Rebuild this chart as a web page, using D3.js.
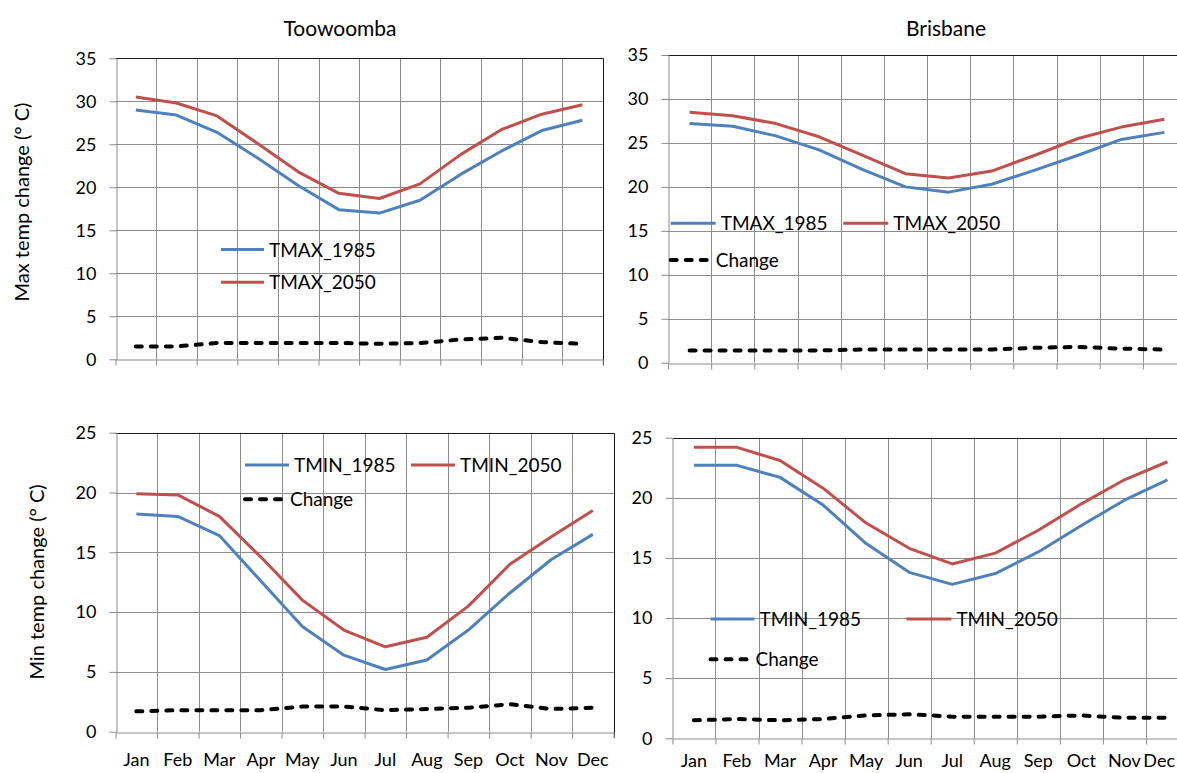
<!DOCTYPE html>
<html>
<head>
<meta charset="utf-8">
<script src="https://cdn.jsdelivr.net/npm/d3@7"></script>
<style>
  html, body { margin: 0; padding: 0; background: #fff; }
  svg { display: block; font-family: Lato, "Open Sans", sans-serif; }
</style>
</head>
<body>
<div id="chart"></div>
<script>
// Monthly temperatures
const months = ["Jan", "Feb", "Mar", "Apr", "May", "Jun", "Jul", "Aug", "Sep", "Oct", "Nov", "Dec"];

const toowoombaTmax1985 = [29.0, 28.4, 26.4, 23.4, 20.2, 17.4, 17.0, 18.5, 21.5, 24.2, 26.6, 27.8];
const toowoombaTmax2050 = [30.5, 29.8, 28.3, 25.1, 21.8, 19.3, 18.7, 20.4, 23.8, 26.7, 28.5, 29.6];
const toowoombaTmaxChange = [1.5, 1.5, 1.9, 1.9, 1.9, 1.9, 1.8, 1.9, 2.3, 2.5, 2.0, 1.8];

const brisbaneTmax1985 = [27.2, 26.9, 25.8, 24.2, 22.0, 20.0, 19.4, 20.3, 21.9, 23.6, 25.4, 26.2];
const brisbaneTmax2050 = [28.5, 28.1, 27.2, 25.7, 23.6, 21.5, 21.0, 21.8, 23.6, 25.5, 26.8, 27.7];
const brisbaneTmaxChange = [1.4, 1.4, 1.4, 1.4, 1.5, 1.5, 1.5, 1.5, 1.7, 1.8, 1.6, 1.5];

const toowoombaTmin1985 = [18.2, 18.0, 16.4, 12.6, 8.8, 6.4, 5.2, 6.0, 8.5, 11.6, 14.4, 16.5];
const toowoombaTmin2050 = [19.9, 19.8, 18.0, 14.6, 11.0, 8.5, 7.1, 7.9, 10.5, 14.0, 16.3, 18.5];
const toowoombaTminChange = [1.7, 1.8, 1.8, 1.8, 2.1, 2.1, 1.8, 1.9, 2.0, 2.3, 1.9, 2.0];

const brisbaneTmin1985 = [22.7, 22.7, 21.7, 19.4, 16.2, 13.8, 12.8, 13.7, 15.5, 17.7, 19.8, 21.5];
const brisbaneTmin2050 = [24.2, 24.2, 23.1, 20.8, 17.9, 15.8, 14.5, 15.4, 17.3, 19.5, 21.5, 23.0];
const brisbaneTminChange = [1.5, 1.6, 1.5, 1.6, 1.9, 2.0, 1.8, 1.8, 1.8, 1.9, 1.7, 1.7];

// Series styles (Excel 2007 default palette)
const styles = {
  base: { color: "#4F81BD", width: 3, dash: null },
  future: { color: "#C0504D", width: 3, dash: null },
  change: { color: "#000000", width: 4, dash: "6,9" }
};

const width = 1177, height = 773;
const gridColor = "#8c8c8c";

const svg = d3.select("#chart")
  .append("svg")
  .attr("width", width)
  .attr("height", height);

svg.append("rect").attr("width", width).attr("height", height).attr("fill", "#fff");

// Panel layout
const panels = [
  {
    left: 115.5, right: 602.7, top: 58.3, bottom: 359.3, yMax: 35,
    series: [
      { name: "TMAX_1985", values: toowoombaTmax1985, style: "base" },
      { name: "TMAX_2050", values: toowoombaTmax2050, style: "future" },
      { name: "Change", values: toowoombaTmaxChange, style: "change" }
    ],
    legend: [
      { name: "TMAX_1985", style: "base", x: 221, y: 249.5, len: 43 },
      { name: "TMAX_2050", style: "future", x: 221, y: 282.3, len: 43 }
    ],
    monthLabelY: null
  },
  {
    left: 668, right: 1186, top: 55, bottom: 362.7, yMax: 35,
    series: [
      { name: "TMAX_1985", values: brisbaneTmax1985, style: "base" },
      { name: "TMAX_2050", values: brisbaneTmax2050, style: "future" },
      { name: "Change", values: brisbaneTmaxChange, style: "change" }
    ],
    legend: [
      { name: "TMAX_1985", style: "base", x: 670.7, y: 223.3, len: 45 },
      { name: "TMAX_2050", style: "future", x: 843.3, y: 223.3, len: 45 },
      { name: "Change", style: "change", x: 670.7, y: 260, len: 40 }
    ],
    monthLabelY: null
  },
  {
    left: 115.6, right: 613.6, top: 432.7, bottom: 731.7, yMax: 25,
    series: [
      { name: "TMIN_1985", values: toowoombaTmin1985, style: "base" },
      { name: "TMIN_2050", values: toowoombaTmin2050, style: "future" },
      { name: "Change", values: toowoombaTminChange, style: "change" }
    ],
    legend: [
      { name: "TMIN_1985", style: "base", x: 245, y: 465, len: 44 },
      { name: "TMIN_2050", style: "future", x: 411, y: 465, len: 44 },
      { name: "Change", style: "change", x: 245, y: 499.3, len: 40 }
    ],
    monthLabelY: 766
  },
  {
    left: 672.4, right: 1189, top: 437.7, bottom: 738.3, yMax: 25,
    series: [
      { name: "TMIN_1985", values: brisbaneTmin1985, style: "base" },
      { name: "TMIN_2050", values: brisbaneTmin2050, style: "future" },
      { name: "Change", values: brisbaneTminChange, style: "change" }
    ],
    legend: [
      { name: "TMIN_1985", style: "base", x: 710.5, y: 619, len: 44 },
      { name: "TMIN_2050", style: "future", x: 906.4, y: 619, len: 45 },
      { name: "Change", style: "change", x: 710.5, y: 659.3, len: 40 }
    ],
    monthLabelY: 767
  }
];

panels.forEach((p) => {
  const g = svg.append("g");

  const x = d3.scaleBand().domain(months).range([p.left, p.right]);
  const xEdge = d3.scaleLinear().domain([0, months.length]).range([p.left, p.right]);
  const y = d3.scaleLinear().domain([0, p.yMax]).range([p.bottom, p.top]);
  const yTicks = d3.range(0, p.yMax + 1, 5);

  // gridlines
  g.append("g")
    .selectAll("line")
    .data(yTicks.filter((t) => t > 0 && t < p.yMax))
    .join("line")
    .attr("x1", p.left).attr("x2", p.right)
    .attr("y1", (d) => Math.round(y(d)) + 0.5).attr("y2", (d) => Math.round(y(d)) + 0.5)
    .attr("stroke", gridColor);

  g.append("g")
    .selectAll("line")
    .data(d3.range(1, months.length))
    .join("line")
    .attr("x1", (d) => Math.round(xEdge(d)) + 0.5).attr("x2", (d) => Math.round(xEdge(d)) + 0.5)
    .attr("y1", p.top).attr("y2", p.bottom)
    .attr("stroke", gridColor);

  // plot area border (top and right)
  g.append("path")
    .attr("d", `M${p.left},${Math.round(p.top) + 0.5}H${Math.round(p.right) + 0.5}V${p.bottom + 6}`)
    .attr("fill", "none")
    .attr("stroke", "#1a1a1a");

  // y axis
  const yAxis = g.append("g")
    .attr("transform", `translate(${Math.round(p.left) + 0.5},0)`)
    .call(d3.axisLeft(y).tickValues(yTicks).tickSize(7).tickSizeOuter(0).tickPadding(13));
  yAxis.select(".domain").attr("stroke", gridColor);
  yAxis.selectAll(".tick line").attr("stroke", gridColor);
  yAxis.selectAll("text")
    .attr("font-size", 18)
    .attr("font-family", "Lato, sans-serif")
    .attr("fill", "#000");

  // x axis: ticks at band edges
  const xAxis = g.append("g")
    .attr("transform", `translate(0,${Math.round(p.bottom) + 0.5})`)
    .call(d3.axisBottom(xEdge).tickValues(d3.range(0, months.length + 1)).tickSize(6).tickSizeOuter(0).tickFormat(""));
  xAxis.select(".domain").attr("stroke", gridColor);
  xAxis.selectAll(".tick line").attr("stroke", gridColor);

  if (p.monthLabelY) {
    // keep labels inside the page: a label that would overflow is end-anchored at the edge
    g.append("g")
      .selectAll("text")
      .data(months)
      .join("text")
      .attr("y", p.monthLabelY)
      .attr("font-size", 18)
      .attr("fill", "#000")
      .text((d) => d)
      .each(function (d) {
        const cx = x(d) + x.bandwidth() / 2;
        const el = d3.select(this);
        const w = this.getComputedTextLength();
        if (cx + w / 2 > width - 2) {
          el.attr("x", width - 2).attr("text-anchor", "end");
        } else {
          el.attr("x", cx).attr("text-anchor", "middle");
        }
      });
  }

  // series lines
  const line = d3.line()
    .x((d, i) => x(months[i]) + x.bandwidth() / 2)
    .y((d) => y(d));

  p.series.forEach((s) => {
    const st = styles[s.style];
    g.append("path")
      .datum(s.values)
      .attr("d", line)
      .attr("fill", "none")
      .attr("stroke", st.color)
      .attr("stroke-width", st.width)
      .attr("stroke-linejoin", "round")
      .attr("stroke-linecap", st.dash ? "round" : "butt")
      .attr("stroke-dasharray", st.dash);
  });

  // legend
  p.legend.forEach((l) => {
    const st = styles[l.style];
    g.append("line")
      .attr("x1", l.x).attr("x2", l.x + l.len)
      .attr("y1", l.y).attr("y2", l.y)
      .attr("stroke", st.color)
      .attr("stroke-width", st.width)
      .attr("stroke-linecap", st.dash ? "round" : "butt")
      .attr("stroke-dasharray", st.dash);
    g.append("text")
      .attr("x", l.x + l.len + 5)
      .attr("y", l.y + 7)
      .attr("font-size", 19)
      .attr("fill", "#000")
      .text(l.name);
  });
});

// Titles
svg.append("text")
  .attr("x", 340).attr("y", 36)
  .attr("text-anchor", "middle")
  .attr("font-size", 21)
  .text("Toowoomba");

svg.append("text")
  .attr("x", 946).attr("y", 36)
  .attr("text-anchor", "middle")
  .attr("font-size", 21)
  .text("Brisbane");

// Y axis titles
svg.append("text")
  .attr("transform", "translate(29,202) rotate(-90)")
  .attr("text-anchor", "middle")
  .attr("font-size", 20)
  .text("Max temp change (° C)");

svg.append("text")
  .attr("transform", "translate(44,582) rotate(-90)")
  .attr("text-anchor", "middle")
  .attr("font-size", 20)
  .text("Min temp change (° C)");
</script>
</body>
</html>
